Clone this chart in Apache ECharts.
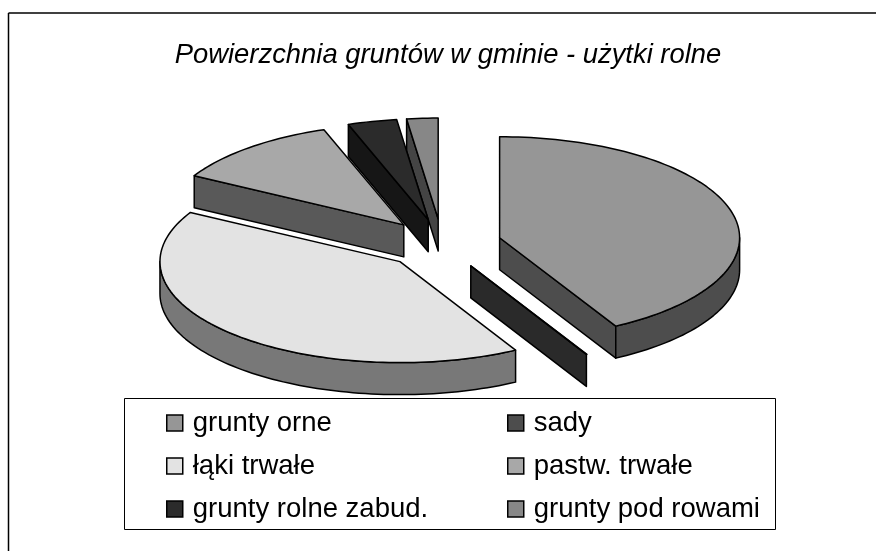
<!DOCTYPE html>
<html><head><meta charset="utf-8">
<style>html,body{margin:0;padding:0;background:#fff}#c{width:876px;height:551px}</style>
<script src="https://cdn.jsdelivr.net/npm/echarts@6/dist/echarts.min.js"></script>
</head><body><div id="c"></div>
<script>
const chartTitle = 'Powierzchnia gruntów w gminie - użytki rolne';
const sliceNames = ['grunty orne','sady','łąki trwałe','pastw. trwałe','grunty rolne zabud.','grunty pod rowami'];
const sliceValues = [41.96, 0.04, 41.1, 11.5, 3.3, 2.1];
const topColors  = ['#969696','#4d4d4d','#e3e3e3','#a8a8a8','#2b2b2b','#878787'];
const wallColors = ['#4d4d4d','#2a2a2a','#787878','#595959','#161616','#444444'];
const drawOrder  = [3,4,2,5,1,0]; // stacking level of each slice, back to front
const leftLegend  = [0,2,4];
const rightLegend = [1,3,5];

const CX = 442.1, CY = 244, RX = 240, RY = 101, DEPTH = 32, EXPLODE = 0.2475, LW = 1.5;
const FONT = '"Liberation Sans", Arial, sans-serif';
const total = sliceValues.reduce((a,b)=>a+b,0);
const rad = d => d*Math.PI/180;

function renderSlice(params, api){
  const i = params.seriesIndex;
  const before = sliceValues.slice(0,i).reduce((a,b)=>a+b,0);
  const t0 = before/total*360, t1 = (before+api.value(0))/total*360, tm = (t0+t1)/2;
  const ax = CX + EXPLODE*RX*Math.sin(rad(tm)), ay = CY - EXPLODE*RY*Math.cos(rad(tm));
  const P = t => [ax+RX*Math.sin(rad(t)), ay-RY*Math.cos(rad(t))];
  const down = p => [p[0], p[1]+DEPTH];
  const arc = (a,b) => { const r=[]; const n=Math.max(1,Math.ceil((b-a)/1.5));
    for(let k=0;k<=n;k++) r.push(P(a+(b-a)*k/n)); return r; };
  const poly = (points, fill) => ({type:'polygon', shape:{points},
    style:{fill, stroke:'#000', lineWidth:LW, lineJoin:'round'}});
  const kids = [];
  const wall = wallColors[i];
  if (Math.sin(rad(t0)) < 0) {
    const e=P(t0); kids.push(poly([[ax,ay],e,down(e),[ax,ay+DEPTH]], wall));
  }
  if (Math.sin(rad(t1)) > 0) {
    const e=P(t1); kids.push(poly([[ax,ay],e,down(e),[ax,ay+DEPTH]], wall));
  }
  const a = Math.max(t0,90), b = Math.min(t1,270);
  if (b > a && b - a > 1) {
    const top = arc(a,b);
    kids.push(poly(top.concat(top.slice().reverse().map(down)), wall));
  }
  kids.push(poly([[ax,ay]].concat(arc(t0,t1)), topColors[i]));
  return {type:'group', children:kids};
}

const legendItems = idx => idx.map(i=>({name:sliceNames[i], icon:'rect',
  itemStyle:{color:topColors[i], borderColor:'#000', borderWidth:1.5}}));
const legendBase = {orient:'vertical', top:408, itemWidth:16, itemHeight:16, itemGap:13,
  selectedMode:false, textStyle:{fontFamily:FONT, fontSize:27.5, color:'#000', lineHeight:30, padding:[0,0,0,5]}, padding:0};
const line = (x1,y1,x2,y2) => ({type:'line', shape:{x1,y1,x2,y2}, style:{stroke:'#000', lineWidth:1.5}, silent:true});

const chart = echarts.init(document.getElementById('c'), null, {renderer:'canvas'});
chart.setOption({
  animation:false,
  backgroundColor:'#fff',
  title:{text:chartTitle, left:443, top:37, textAlign:'center',
    textStyle:{fontFamily:FONT, fontSize:27.4, fontStyle:'italic', fontWeight:'normal', color:'#000'}},
  legend:[
    Object.assign({}, legendBase, {left:166, data:legendItems(leftLegend)}),
    Object.assign({}, legendBase, {left:507, data:legendItems(rightLegend)})
  ],
  graphic:[
    line(8.5,13,876,13),
    line(8.5,13,8.5,551),
    {type:'rect', shape:{x:124.5,y:398.5,width:651,height:131}, style:{fill:'none', stroke:'#000', lineWidth:1}, silent:true}
  ],
  series: sliceNames.map((name,i)=>({
    type:'custom', name, coordinateSystem:'none', silent:true, z:2+drawOrder[i],
    itemStyle:{color:topColors[i]},
    renderItem:renderSlice,
    data:[[sliceValues[i]]]
  }))
});
</script></body></html>
